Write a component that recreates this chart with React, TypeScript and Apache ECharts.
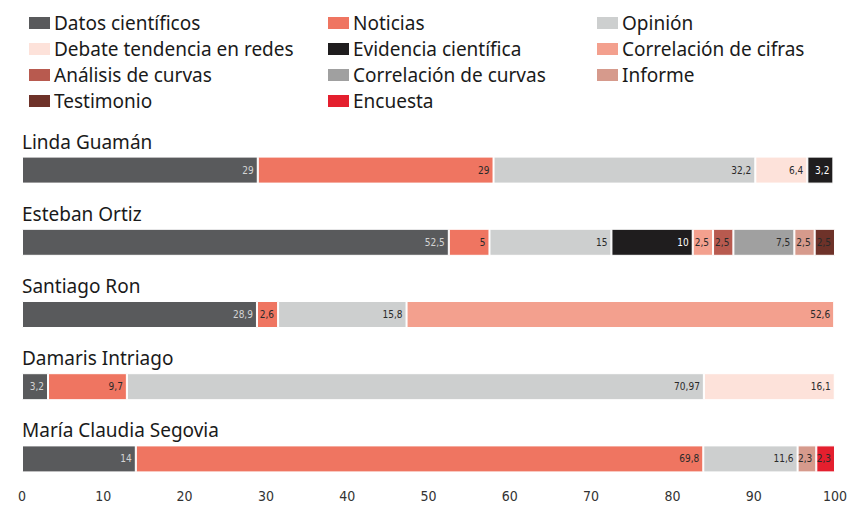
import React, { useEffect, useRef } from "react";
import * as echarts from "echarts";

const categories = ["Linda Guamán", "Esteban Ortiz", "Santiago Ron", "Damaris Intriago", "María Claudia Segovia"];
const seriesNames = [
  "Datos científicos",
  "Noticias",
  "Opinión",
  "Debate tendencia en redes",
  "Evidencia científica",
  "Correlación de cifras",
  "Análisis de curvas",
  "Correlación de curvas",
  "Informe",
  "Testimonio",
  "Encuesta",
];
const datosCientificos = [29, 52.5, 28.9, 3.2, 14];
const noticias = [29, 5, 2.6, 9.7, 69.8];
const opinion = [32.2, 15, 15.8, 70.97, 11.6];
const debate = [6.4, null, null, 16.1, null];
const evidencia = [3.2, 10, null, null, null];
const correlacionCifras = [null, 2.5, 52.6, null, null];
const analisisCurvas = [null, 2.5, null, null, null];
const correlacionCurvas = [null, 7.5, null, null, null];
const informe = [null, 2.5, null, null, 2.3];
const testimonio = [null, 2.5, null, null, null];
const encuesta = [null, null, null, null, 2.3];
const xTicks = [0, 100, 10];

const seriesData = [
  datosCientificos, noticias, opinion, debate, evidencia, correlacionCifras,
  analisisCurvas, correlacionCurvas, informe, testimonio, encuesta,
];
const colors = [
  "#595a5c", "#ef7561", "#cdcfcf", "#fde2da", "#1f1d1e", "#f3a08e",
  "#b85a4f", "#a0a0a0", "#d69a8c", "#6e3229", "#e41f2e",
];
const labelColors = [
  "#d4d4d4", "#2a2a2a", "#2a2a2a", "#2a2a2a", "#ffffff", "#2a2a2a",
  "#2a2a2a", "#2a2a2a", "#2a2a2a", "#2a2a2a", "#2a2a2a",
];

const mainFont = "'Noto Sans', 'Open Sans', sans-serif";
const narrowFont = "'Liberation Sans Narrow', 'DejaVu Sans Condensed', 'Roboto', sans-serif";

export default function App() {
  const ref = useRef<HTMLDivElement>(null);
  useEffect(() => {
    if (!ref.current) return;
    const chart = echarts.init(ref.current, null, { renderer: "svg" });
    const legendCol = (names: string[], left: number) => ({
      orient: "vertical",
      left,
      top: 13,
      padding: 0,
      itemWidth: 23,
      itemHeight: 14,
      itemGap: 6,
      icon: "rect",
      selectedMode: false,
      data: names,
      textStyle: { fontFamily: mainFont, fontSize: 19, color: "#1a1a1a", lineHeight: 20, padding: [0, 0, 0, -2] },
    });
    chart.setOption({
      animation: false,
      backgroundColor: "#ffffff",
      legend: [
        legendCol([seriesNames[0], seriesNames[3], seriesNames[6], seriesNames[9]], 27),
        legendCol([seriesNames[1], seriesNames[4], seriesNames[7], seriesNames[10]], 326),
        legendCol([seriesNames[2], seriesNames[5], seriesNames[8]], 595),
      ],
      grid: { left: 22, right: 25, top: 134, height: 361 },
      xAxis: {
        type: "value",
        min: xTicks[0],
        max: xTicks[1],
        interval: xTicks[2],
        axisLine: { show: false },
        axisTick: { show: false },
        splitLine: { show: false },
        axisLabel: { margin: -6, fontSize: 14, color: "#333", fontFamily: narrowFont },
      },
      yAxis: {
        type: "category",
        inverse: true,
        data: categories,
        axisLine: { show: false },
        axisTick: { show: false },
        axisLabel: {
          inside: true,
          margin: 0,
          align: "left",
          verticalAlign: "bottom",
          padding: [0, 0, 19, 0],
          fontSize: 19,
          fontFamily: mainFont,
          color: "#1a1a1a",
        },
      },
      series: seriesNames.map((name, i) => ({
        name,
        type: "bar",
        stack: "total",
        barWidth: 27,
        data: seriesData[i],
        itemStyle: { color: colors[i], borderColor: "#ffffff", borderWidth: 1 },
        label: {
          show: true,
          position: "insideRight",
          distance: 4,
          fontSize: 10,
          fontFamily: narrowFont,
          color: labelColors[i],
          formatter: (p: any) => String(p.value).replace(".", ","),
        },
      })),
    });
    return () => chart.dispose();
  }, []);
  return <div ref={ref} style={{ position: "absolute", left: 0, top: 0, width: 860, height: 505 }} />;
}
